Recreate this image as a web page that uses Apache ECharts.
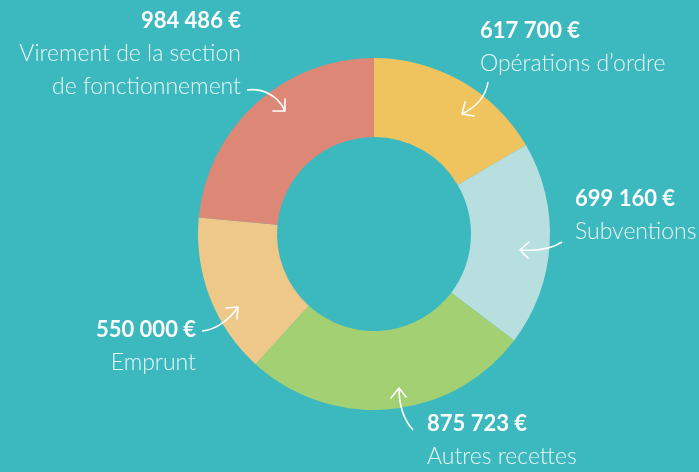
<!DOCTYPE html>
<html>
<head>
<meta charset="utf-8">
<script src="https://cdn.jsdelivr.net/npm/echarts@6/dist/echarts.min.js"></script>
<style>
  html, body { margin: 0; padding: 0; background: #3cb8bf; }
  #chart { width: 699px; height: 472px; }
</style>
</head>
<body>
<div id="chart"></div>
<script>
// clockwise from 12 o'clock
const names = ['Opérations d’ordre', 'Subventions', 'Autres recettes', 'Emprunt', 'Virement de la section\nde fonctionnement'];
const amounts = [617700, 699160, 875723, 550000, 984486];
// slice sizes as drawn in the reference (two slices are swapped there)
const sliceValues = [617700, 699160, 984486, 550000, 875723];
const colors = ['#efc45e', '#b8dfdf', '#a3d072', '#eec889', '#dd8876'];

// label anchors: [x, y, align]
const labelPos = [
  [480, 14, 'left'],
  [575, 182, 'left'],
  [427, 407, 'left'],
  [196, 313, 'right'],
  [241, 4, 'right']
];

// hand-drawn style arrows: start, control1, control2, tip, arm1, arm2
const arrows = [
  [[488, 82], [486, 96], [478, 106], [462, 114], [474, 116], [465, 102]],
  [[562, 242], [550, 250], [535, 251], [520, 250], [529, 242], [528, 258]],
  [[413, 430], [404, 420], [399, 405], [399, 388], [391, 398], [406, 397]],
  [[202, 331], [216, 330], [230, 319], [238, 307], [226, 308], [237, 319]],
  [[247, 90], [262, 88], [278, 95], [285, 111], [273, 111], [285, 99]]
];

const fmt = v => String(v).replace(/\B(?=(\d{3})+(?!\d))/g, ' ') + ' €';

const chart = echarts.init(document.getElementById('chart'), null, { renderer: 'canvas' });

const graphic = [];
arrows.forEach(a => {
  graphic.push({
    type: 'bezierCurve',
    shape: { x1: a[0][0], y1: a[0][1], cpx1: a[1][0], cpy1: a[1][1], cpx2: a[2][0], cpy2: a[2][1], x2: a[3][0], y2: a[3][1] },
    style: { stroke: '#ffffff', lineWidth: 1.6, fill: null },
    z: 10
  });
  graphic.push({
    type: 'polyline',
    shape: { points: [a[4], a[3], a[5]] },
    style: { stroke: '#ffffff', lineWidth: 1.6, fill: null, lineCap: 'round', lineJoin: 'round' },
    z: 10
  });
});

chart.setOption({
  backgroundColor: '#3cb8bf',
  animation: false,
  graphic,
  series: [{
    type: 'pie',
    center: [374, 234],
    radius: [97, 176],
    startAngle: 90,
    clockwise: true,
    silent: true,
    itemStyle: { borderWidth: 0 },
    labelLine: { show: false },
    label: {
      show: true,
      overflow: 'none',
      width: 300,
      formatter: p => '{v|' + fmt(amounts[p.dataIndex]) + '}\n{n|' + names[p.dataIndex].split('\n').join('}\n{n|') + '}',
      rich: {
        v: { fontFamily: 'Lato', fontWeight: 'bold', fontSize: 22, color: '#ffffff', lineHeight: 33 },
        n: { fontFamily: 'Lato', fontWeight: 300, fontSize: 23, color: '#eaf7f6', lineHeight: 33 }
      }
    },
    labelLayout: p => {
      const lp = labelPos[p.dataIndex];
      return { x: lp[0], y: lp[1], align: lp[2], verticalAlign: 'top' };
    },
    data: names.map((n, i) => ({ name: n, value: sliceValues[i], itemStyle: { color: colors[i] } }))
  }]
});
</script>
</body>
</html>
